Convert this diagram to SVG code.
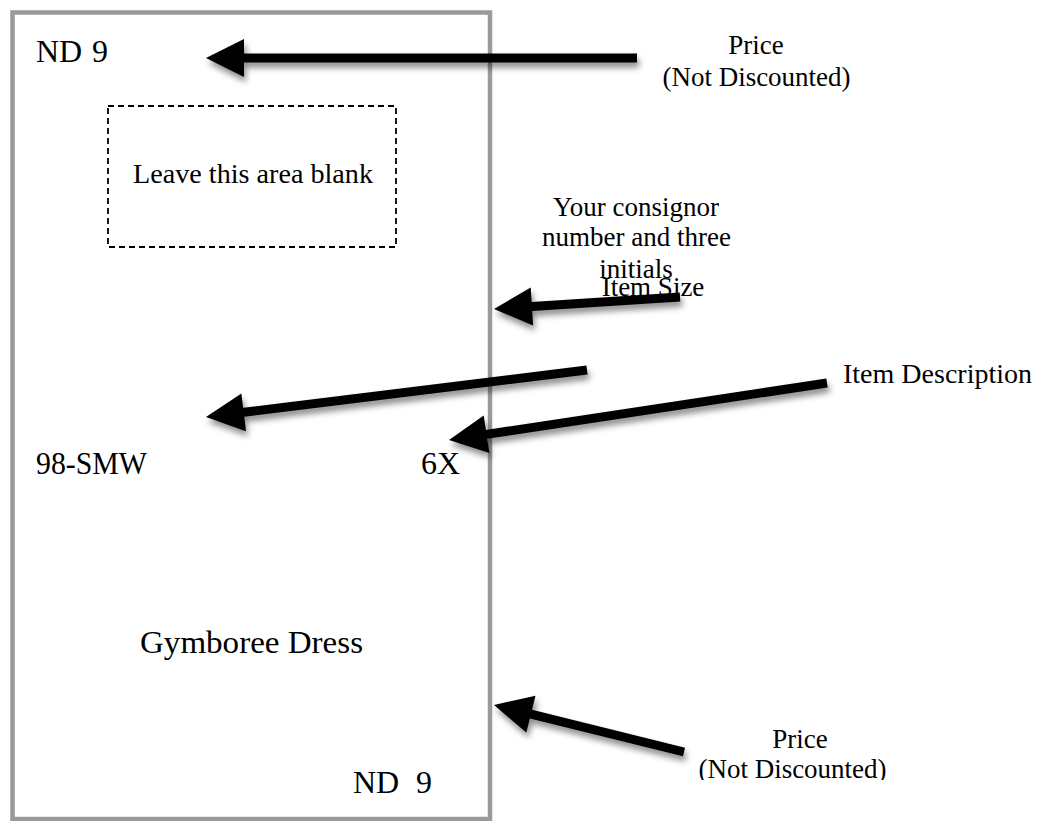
<svg xmlns="http://www.w3.org/2000/svg" width="1051" height="821" viewBox="0 0 1051 821">
  <style>
    text { font-family: "Liberation Serif", "Times New Roman", serif; fill: #000; }
    .m { font-size: 27px; }
    .l { font-size: 32px; }
    .c { text-anchor: middle; }
    .arrow line { stroke: #000; stroke-width: 9; stroke-linecap: butt; }
    .arrow polygon { fill: #000; }
  </style>
  <defs>
    <filter id="shadow" x="-20%" y="-50%" width="140%" height="220%">
      <feDropShadow dx="2" dy="5" stdDeviation="3" flood-color="#000" flood-opacity="0.45"/>
    </filter>
    <clipPath id="clipBottom">
      <rect x="0" y="0" width="1051" height="780"/>
    </clipPath>
  </defs>
  <rect width="1051" height="821" fill="#fff"/>

  <g id="tag">
    <rect x="12.5" y="12.5" width="477.5" height="806.5" fill="none" stroke="#9a9a9a" stroke-width="4.5"/>
  </g>

  <g id="blank-area">
    <rect x="108" y="106" width="288" height="141" fill="none" stroke="#000" stroke-width="1.8" stroke-dasharray="6 4"/>
    <text class="m" x="133" y="183" textLength="240" lengthAdjust="spacingAndGlyphs">Leave this area blank</text>
  </g>

  <g id="price-top">
    <text class="l" x="36" y="62" font-size="30">ND <tspan x="92">9</tspan></text>
  </g>
  <g id="consignor">
    <text class="l" x="36" y="474" textLength="111" lengthAdjust="spacingAndGlyphs">98-SMW</text>
  </g>
  <g id="size">
    <text class="l" x="421" y="474">6X</text>
  </g>
  <g id="description">
    <text class="l" x="140" y="653" font-size="33" textLength="223" lengthAdjust="spacingAndGlyphs">Gymboree Dress</text>
  </g>
  <g id="price-bottom">
    <text class="l" x="353" y="793">ND <tspan x="416">9</tspan></text>
  </g>

  <g id="label-price-top">
    <text class="m c" x="756" y="54">Price</text>
    <text class="m c" x="756.5" y="86">(Not Discounted)</text>
  </g>
  <g id="label-consignor">
    <text class="m c" x="636" y="216">Your consignor</text>
    <text class="m c" x="636.5" y="246">number and three</text>
    <text class="m c" x="636" y="278">initials</text>
  </g>
  <g id="label-size">
    <text class="m c" x="653" y="296">Item Size</text>
  </g>
  <g id="label-description">
    <text class="m" x="843" y="383" textLength="189" lengthAdjust="spacingAndGlyphs">Item Description</text>
  </g>
  <g id="label-price-bottom" clip-path="url(#clipBottom)">
    <text class="m c" x="800" y="748">Price</text>
    <text class="m c" x="792.5" y="778">(Not Discounted)</text>
  </g>

  <g id="connectors" class="arrow" filter="url(#shadow)">
    <g>
      <line x1="637" y1="58" x2="240" y2="58"/>
      <polygon points="206,58 244,39 244,77"/>
    </g>
    <g>
      <line x1="680" y1="297" x2="528" y2="306.8"/>
      <polygon points="494,309 533.1,325.5 530.7,287.6"/>
    </g>
    <g>
      <line x1="587" y1="370" x2="240" y2="412.8"/>
      <polygon points="206,417 246,431.2 241.4,393.5"/>
    </g>
    <g>
      <line x1="827" y1="383" x2="483" y2="434.9"/>
      <polygon points="449,440 489.4,453.1 483.7,415.5"/>
    </g>
    <g>
      <line x1="684" y1="752" x2="527" y2="713.2"/>
      <polygon points="494,705 526.3,732.6 535.5,695.7"/>
    </g>
  </g>
</svg>
